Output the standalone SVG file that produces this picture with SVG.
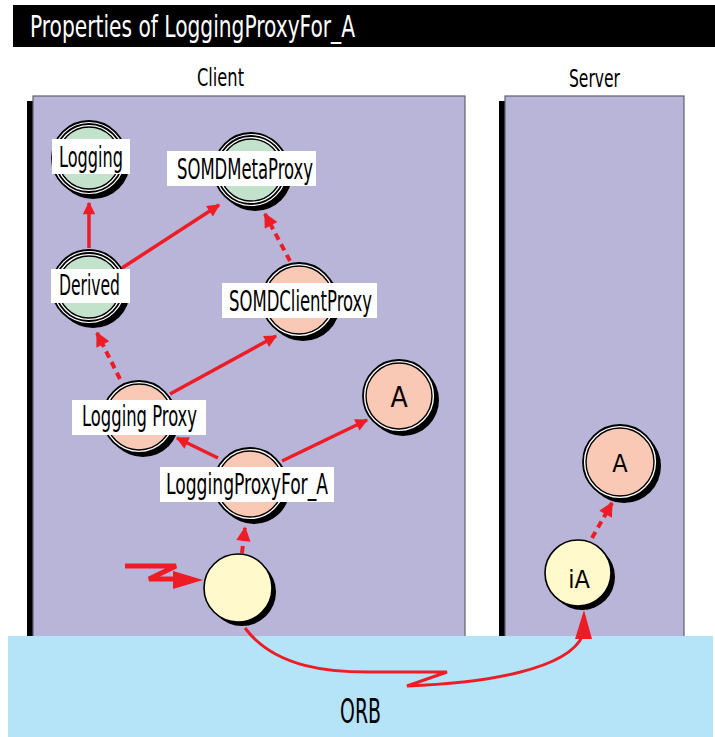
<svg xmlns="http://www.w3.org/2000/svg" width="715" height="737" viewBox="0 0 715 737">
<style>
text{font-family:"DejaVu Sans Condensed","Liberation Sans Narrow","Liberation Sans",sans-serif;font-stretch:condensed;fill:#000}
.lbl{font-size:28px}
.panel{fill:#b9b5d9;stroke:#5f5f6f;stroke-width:1.2}
.sh{fill:#000}
.ring{fill:#fff;stroke:#000;stroke-width:1.8}
.green{fill:#c2e2cc;stroke:#000;stroke-width:1.4}
.salmon{fill:#f9c9b5;stroke:#000;stroke-width:1.4}
.yellow{fill:#fff9cc;stroke:#000;stroke-width:1.6}
.box{fill:#fff}
.c{stroke:#ee1c25;stroke-width:3.5;fill:none}
.d{stroke:#ee1c25;stroke-width:4;fill:none;stroke-dasharray:7 5}
</style>
<defs>
<marker id="ah" viewBox="0 0 10 10" refX="9" refY="5" markerWidth="4.2" markerHeight="3.6" markerUnits="strokeWidth" orient="auto">
<path d="M0,0 L10,5 L0,10 z" fill="#ee1c25"/>
</marker>
</defs>
<rect x="13" y="5" width="702" height="42" fill="#000"/>
<text x="30" y="37" font-size="31" textLength="325" lengthAdjust="spacingAndGlyphs" style="fill:#fff">Properties of LoggingProxyFor_A</text>
<text x="197" y="86" font-size="24" textLength="47" lengthAdjust="spacingAndGlyphs">Client</text>
<text x="569" y="87" font-size="24" textLength="51" lengthAdjust="spacingAndGlyphs">Server</text>
<g id="client-panel">
<rect x="27" y="101" width="6" height="535" class="sh"/>
<rect x="33" y="96" width="432" height="545" class="panel"/>
</g>
<g id="server-panel">
<rect x="499" y="101" width="6" height="535" class="sh"/>
<rect x="505" y="96" width="179" height="545" class="panel"/>
</g>
<g id="orb">
<rect x="8" y="636" width="705" height="101" fill="#b5e3f7"/>
<text x="340" y="723" font-size="33" textLength="41" lengthAdjust="spacingAndGlyphs">ORB</text>
</g>
<g id="connectors">
<line x1="89" y1="248" x2="89" y2="203" class="c" marker-end="url(#ah)"/>
<line x1="122" y1="268" x2="219" y2="205" class="c" marker-end="url(#ah)"/>
<line x1="290" y1="261" x2="265" y2="214" class="d" marker-end="url(#ah)"/>
<line x1="120" y1="379" x2="97" y2="333" class="d" marker-end="url(#ah)"/>
<line x1="170" y1="394" x2="276" y2="336" class="c" marker-end="url(#ah)"/>
<line x1="218" y1="458" x2="177" y2="438" class="c" marker-end="url(#ah)"/>
<line x1="282" y1="461" x2="367" y2="420" class="c" marker-end="url(#ah)"/>
<line x1="242" y1="553" x2="245" y2="528" class="d" marker-end="url(#ah)"/>
<line x1="592" y1="538" x2="612" y2="503" class="d" marker-end="url(#ah)"/>
<polyline points="125,566 176,566 149,579 176,579" fill="none" stroke="#ee1c25" stroke-width="5"/>
<polygon points="173,571 203,580 173,589" fill="#ee1c25"/>
<path d="M245,628 C275,668 330,673 378,672 L447,672 L407,686 C485,683 568,670 583,635" fill="none" stroke="#ee1c25" stroke-width="3"/>
<polygon points="575,639 584,610 592,639" fill="#ee1c25"/>
</g>
<g id="node-logging">
<circle cx="93" cy="162" r="37" class="sh"/>
<circle cx="89" cy="158" r="37" class="ring"/>
<circle cx="89" cy="158" r="34" class="ring"/>
<circle cx="89" cy="158" r="31" class="green"/>
<rect x="52" y="139" width="78" height="35" class="box"/>
<text x="59" y="167" class="lbl" textLength="64" lengthAdjust="spacingAndGlyphs">Logging</text>
</g>
<g id="node-somdmetaproxy">
<circle cx="255" cy="174" r="37" class="sh"/>
<circle cx="251" cy="170" r="37" class="ring"/>
<circle cx="251" cy="170" r="34" class="ring"/>
<circle cx="251" cy="170" r="31" class="green"/>
<rect x="167" y="151" width="149" height="35" class="box"/>
<text x="177" y="179" class="lbl" textLength="136" lengthAdjust="spacingAndGlyphs">SOMDMetaProxy</text>
</g>
<g id="node-derived">
<circle cx="93" cy="291" r="37" class="sh"/>
<circle cx="89" cy="287" r="37" class="ring"/>
<circle cx="89" cy="287" r="34" class="ring"/>
<circle cx="89" cy="287" r="31" class="green"/>
<rect x="51" y="269" width="79" height="34" class="box"/>
<text x="59" y="295" class="lbl" textLength="61" lengthAdjust="spacingAndGlyphs">Derived</text>
</g>
<g id="node-somdclientproxy">
<circle cx="303" cy="304" r="37" class="sh"/>
<circle cx="299" cy="300" r="37" class="ring"/>
<circle cx="299" cy="300" r="34" class="salmon"/>
<rect x="222" y="283" width="155" height="35" class="box"/>
<text x="229" y="311" class="lbl" textLength="143" lengthAdjust="spacingAndGlyphs">SOMDClientProxy</text>
</g>
<g id="node-a-client">
<circle cx="403" cy="400" r="36" class="sh"/>
<circle cx="399" cy="396" r="36" class="ring"/>
<circle cx="399" cy="396" r="33" class="salmon"/>
<text x="399" y="407" class="lbl" text-anchor="middle">A</text>
</g>
<g id="node-loggingproxy">
<circle cx="143" cy="421" r="36" class="sh"/>
<circle cx="139" cy="417" r="36" class="ring"/>
<circle cx="139" cy="417" r="33" class="salmon"/>
<rect x="72" y="400" width="134" height="35" class="box"/>
<text x="82" y="426" class="lbl" textLength="115" lengthAdjust="spacingAndGlyphs">Logging Proxy</text>
</g>
<g id="node-loggingproxyfor-a">
<circle cx="254" cy="488" r="36" class="sh"/>
<circle cx="250" cy="484" r="36" class="ring"/>
<circle cx="250" cy="484" r="33" class="salmon"/>
<rect x="160" y="467" width="174" height="35" class="box"/>
<text x="166" y="494" class="lbl" textLength="162" lengthAdjust="spacingAndGlyphs">LoggingProxyFor_A</text>
</g>
<g id="node-client-stub">
<circle cx="242" cy="592" r="34" class="sh"/>
<circle cx="238" cy="588" r="34" class="yellow"/>
</g>
<g id="node-a-server">
<circle cx="624" cy="466" r="37" class="sh"/>
<circle cx="620" cy="462" r="37" class="ring"/>
<circle cx="620" cy="462" r="34" class="salmon"/>
<text x="620" y="472" font-size="25" text-anchor="middle">A</text>
</g>
<g id="node-ia">
<circle cx="582" cy="577" r="33" class="sh"/>
<circle cx="578" cy="573" r="33" class="yellow"/>
<text x="579" y="588" font-size="25" text-anchor="middle">iA</text>
</g>
</svg>
